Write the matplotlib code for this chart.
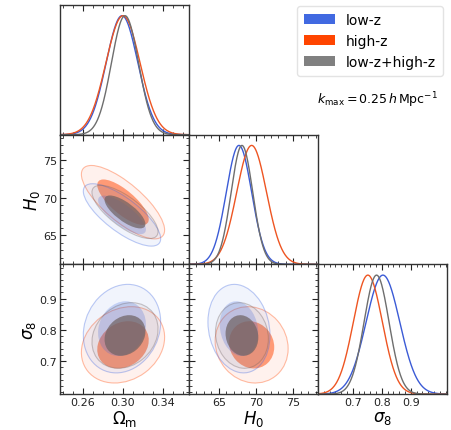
import numpy as np
import matplotlib.pyplot as plt
from matplotlib.patches import Ellipse, Patch
from matplotlib.ticker import MultipleLocator

# ---- posterior summaries ------------------------------------------------- #
param_labels = [r"$\Omega_{\rm m}$", r"$H_0$", r"$\sigma_8$"]
sample_names = ["low-z", "high-z", "low-z+high-z"]

# means: [Omega_m, H0, sigma8]
lowz_mean = [0.299, 67.7, 0.804]
highz_mean = [0.300, 69.4, 0.752]
comb_mean = [0.302, 68.1, 0.782]

# 1-sigma widths
lowz_sigma = [0.0158, 1.7, 0.058]
highz_sigma = [0.017, 2.0, 0.05]
comb_sigma = [0.0135, 1.45, 0.043]

# correlations: [r(Om,H0), r(Om,s8), r(H0,s8)]
lowz_corr = [-0.76, 0.15, -0.15]
highz_corr = [-0.76, 0.2, -0.1]
comb_corr = [-0.74, 0.2, -0.1]

tick_major = [[0.26, 0.30, 0.34], [65, 70, 75], [0.7, 0.8, 0.9]]
tick_labels = [["0.26", "0.30", "0.34"], ["65", "70", "75"], ["0.7", "0.8", "0.9"]]
minor_step = [0.01, 1, 0.02]
diag_lims = [(0.237, 0.366), (61.0, 78.3), (0.58, 1.025)]
twod_ylims = [None, (61.1, 78.4), (0.594, 1.01)]

line_cols = ["#3b5bd6", "#ee5522", "#6e6e6e"]
fill_cols = ["#4169e1", "#ff4500", "#6f6363"]
inner_alpha = [0.25, 0.5, 0.72]
legend_cols = ["#4169e1", "#ff4500", "#808080"]
draw_order = [1, 0, 2]

means = [lowz_mean, highz_mean, comb_mean]
sigmas = [lowz_sigma, highz_sigma, comb_sigma]
corrs = [lowz_corr, highz_corr, comb_corr]

# ------------------------------------------------------------------------ #

def corr_of(k, i, j):
    key = {(0, 1): 0, (0, 2): 1, (1, 2): 2}[(min(i, j), max(i, j))]
    return corrs[k][key]


def add_ellipse(ax, k, i, j, radius, **kw):
    sx, sy = sigmas[k][i], sigmas[k][j]
    r = corr_of(k, i, j)
    cov = np.array([[sx**2, r*sx*sy], [r*sx*sy, sy**2]])
    vals, vecs = np.linalg.eigh(cov)
    ang = np.degrees(np.arctan2(vecs[1, 1], vecs[0, 1]))
    e = Ellipse((means[k][i], means[k][j]), 2*radius*np.sqrt(vals[1]),
                2*radius*np.sqrt(vals[0]), angle=ang, **kw)
    ax.add_patch(e)


def style(ax):
    ax.tick_params(which="both", direction="in", top=True, right=True,
                   labelsize=8, colors="#222222", pad=2)
    ax.tick_params(which="major", length=4, width=0.8)
    ax.tick_params(which="minor", length=2, width=0.6)
    for s in ax.spines.values():
        s.set_color("#333333")
        s.set_linewidth(1.0)


W, H = 451, 431
fig = plt.figure(figsize=(W/100, H/100), dpi=100)
left0, top0, pw, ph = 60, 6, 129, 129.7

r68, r95 = 1.515, 2.448

for row in range(3):
    for col in range(row + 1):
        x0 = left0 + col*pw
        y0 = top0 + (row + 1)*ph
        ax = fig.add_axes([x0/W, 1 - y0/H, pw/W, ph/H])
        style(ax)
        ax.set_xticks(tick_major[col])
        ax.set_xticklabels(tick_labels[col])
        ax.xaxis.set_minor_locator(MultipleLocator(minor_step[col]))
        if row == col:
            xs = np.linspace(diag_lims[col][0], diag_lims[col][1], 400)
            for k in range(3):
                p = np.exp(-0.5*((xs - means[k][col])/sigmas[k][col])**2)
                ax.plot(xs, p, color=line_cols[k], lw=1.0)
            ax.set_xlim(diag_lims[col])
            ax.set_ylim(0, 1.09)
            ax.set_yticks([])
            ax.tick_params(axis="y", which="both", left=False, right=False)
        else:
            for k in draw_order:
                add_ellipse(ax, k, col, row, r95, facecolor=fill_cols[k],
                            alpha=0.07, edgecolor="none")
                add_ellipse(ax, k, col, row, r95, facecolor="none",
                            edgecolor=fill_cols[k], alpha=0.35, lw=0.8)
                add_ellipse(ax, k, col, row, r68, facecolor=fill_cols[k],
                            alpha=inner_alpha[k], edgecolor="none")
            ax.set_xlim(diag_lims[col])
            ax.set_ylim(twod_ylims[row])
            ax.set_yticks(tick_major[row])
            ax.set_yticklabels(tick_labels[row])
            ax.yaxis.set_minor_locator(MultipleLocator(minor_step[row]))
        if col == 0 and row > 0:
            ax.set_ylabel(param_labels[row], fontsize=12, labelpad=1)
        else:
            ax.tick_params(axis="y", labelleft=False)
        if row == 2:
            ax.set_xlabel(param_labels[col], fontsize=12, labelpad=1)
        else:
            ax.tick_params(axis="x", labelbottom=False)

handles = [Patch(facecolor=c, edgecolor="none") for c in legend_cols]
fig.legend(handles, sample_names, loc="upper right",
           bbox_to_anchor=(450/W, 1.0), fontsize=10, frameon=True,
           handlelength=2.2, handleheight=0.7, labelspacing=0.5,
           borderpad=0.5, edgecolor="#dddddd", fancybox=True)

fig.text(377/W, 1 - 100/H, r"$k_{\rm max} = 0.25\,h\,{\rm Mpc}^{-1}$",
         ha="center", va="center", fontsize=9)

fig.savefig("out.png", dpi=100)
